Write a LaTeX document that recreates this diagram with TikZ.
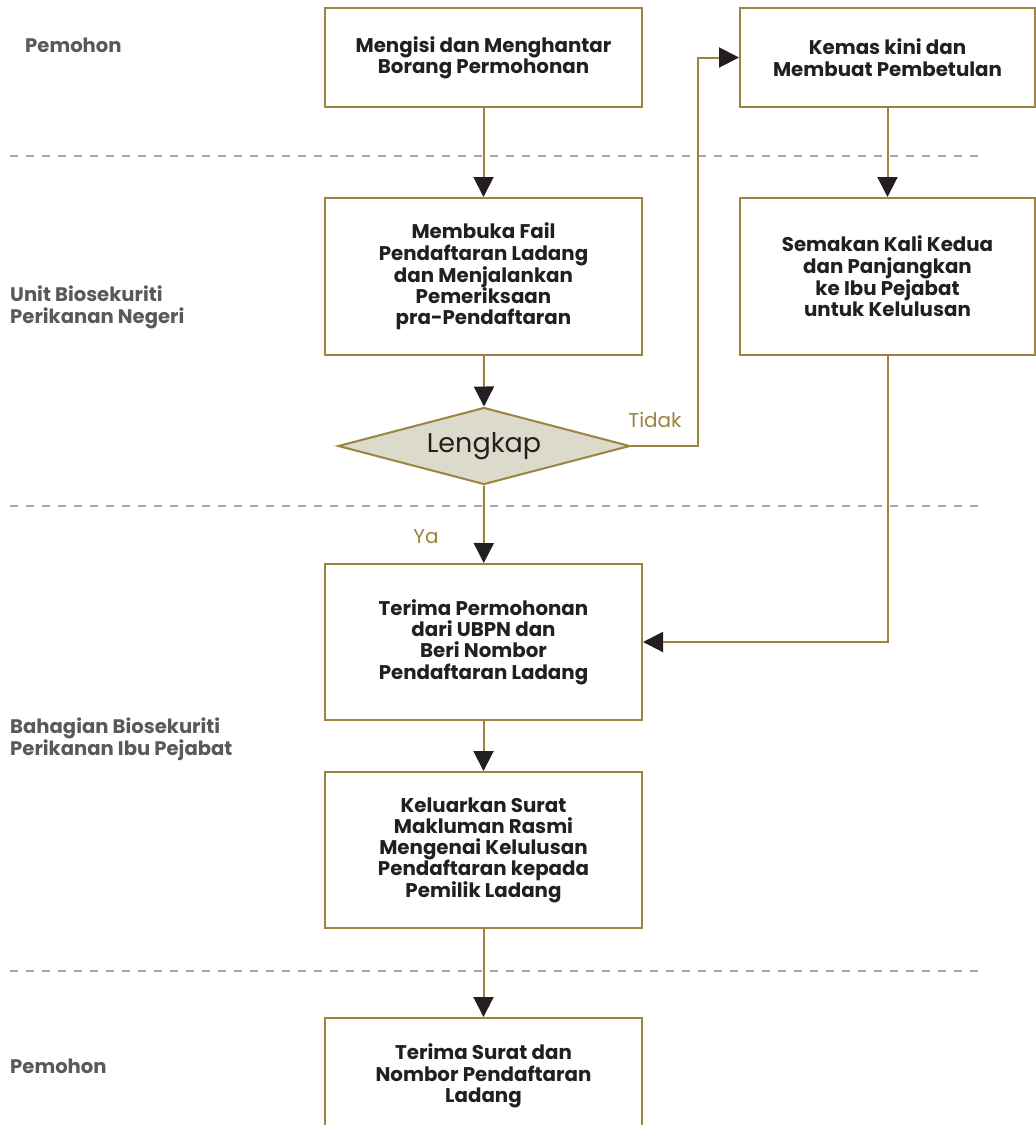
\documentclass[tikz,border=0pt]{standalone}
\usepackage{fontspec}
\setmainfont{Poppins}
\usetikzlibrary{arrows.meta,shapes.geometric}
\definecolor{gold}{HTML}{9C8340}
\definecolor{ink}{HTML}{231F20}
\definecolor{lanegray}{HTML}{58595B}
\definecolor{dashgray}{HTML}{A7A9AC}
\definecolor{dfill}{HTML}{DCDACB}
\tikzset{
  procbox/.style={draw=gold, line width=2pt, fill=white, rectangle, align=center,
    text=ink, font=\fontsize{19.8}{21.3}\selectfont\bfseries, inner sep=0pt},
  decbox/.style={draw=gold, line width=2pt, fill=dfill, diamond, aspect=3.8,
    inner sep=0pt, minimum width=292pt, minimum height=77pt, text=ink,
    font=\fontsize{27}{30}\selectfont},
  lane/.style={anchor=west, align=left, text=lanegray, inner sep=0pt,
    font=\fontsize{19.6}{22}\selectfont\bfseries},
  conn/.style={draw=gold, line width=2pt, -{Triangle[width=20pt,length=20pt,color=ink,fill=ink]}},
  sep/.style={draw=dashgray, line width=1.2pt, dash pattern=on 8pt off 8pt},
  branch/.style={text=gold, inner sep=0pt, font=\fontsize{20}{22}\selectfont}
}
\begin{document}
\begin{tikzpicture}[x=1pt,y=-1pt]
\clip (0,0) rectangle (1036,1125);
\fill[white] (0,0) rectangle (1036,1125);
% separators
\draw[sep] (10,156) -- (983,156);
\draw[sep] (10,506) -- (983,506);
\draw[sep] (10,971) -- (983,971);
% lane labels
\node[lane] (l1) at (25,45) {Pemohon};
\node[lane] (l2) at (10,307) {Unit Biosekuriti\\Perikanan Negeri};
\node[lane] (l3) at (10,739) {Bahagian Biosekuriti\\Perikanan Ibu Pejabat};
\node[lane] (l4) at (10,1066) {Pemohon};
% boxes
\node[procbox, minimum width=317pt, minimum height=99pt] (b1) at (483.5,57.5) {Mengisi dan Menghantar\\Borang Permohonan};
\node[procbox, minimum width=295pt, minimum height=99pt] (b2) at (887.5,57.5) {Kemas kini dan\\Membuat Pembetulan};
\node[procbox, minimum width=317pt, minimum height=157pt] (b3) at (483.5,276.5) {Membuka Fail\\Pendaftaran Ladang\\dan Menjalankan\\Pemeriksaan\\pra-Pendaftaran};
\node[procbox, minimum width=295pt, minimum height=157pt] (b4) at (887.5,276.5) {Semakan Kali Kedua\\dan Panjangkan\\ke Ibu Pejabat\\untuk Kelulusan};
\node[decbox] (d) at (484,446) {Lengkap};
\node[procbox, minimum width=317pt, minimum height=156pt] (b5) at (483.5,642) {Terima Permohonan\\dari UBPN dan\\Beri Nombor\\Pendaftaran Ladang};
\node[procbox, minimum width=317pt, minimum height=156pt] (b6) at (483.5,850) {Keluarkan Surat\\Makluman Rasmi\\Mengenai Kelulusan\\Pendaftaran kepada\\Pemilik Ladang};
\node[procbox, minimum width=317pt, minimum height=116pt] (b7) at (483.5,1076) {Terima Surat dan\\Nombor Pendaftaran\\Ladang};
% connectors
\draw[conn] (b1) -- (b3);
\draw[conn] (b3) -- (d.north);
\draw[conn] (d.south) -- (b5);
\draw[conn] (d.east) -- ++(67,0) coordinate (tturn) |- (b2.west);
\draw[conn] (b2) -- (b4);
\draw[conn] (b4.south) |- (b5.east);
\draw[conn] (b5) -- (b6);
\draw[conn] (b6) -- (b7);
% branch labels
\node[branch] (tidak) at (655,420) {Tidak};
\node[branch] (ya) at (426,537) {Ya};
\end{tikzpicture}
\end{document}
